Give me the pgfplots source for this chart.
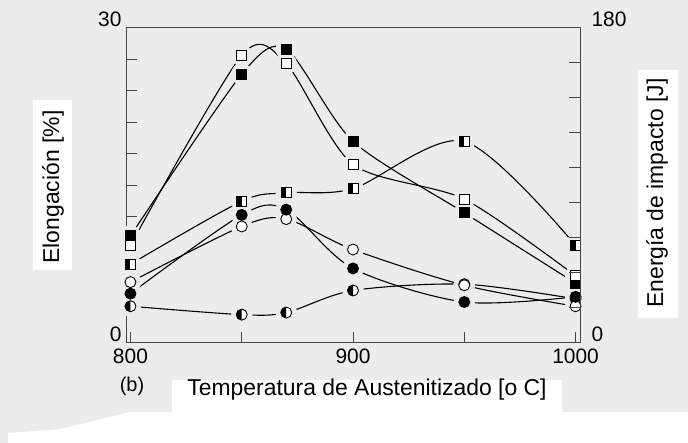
\documentclass[border=0pt]{standalone}
\usepackage{fontspec}
\setmainfont{Liberation Sans}
\usepackage{pgfplots}
\usepackage{pgfplotstable}
\pgfplotsset{compat=1.18}

\definecolor{bg}{RGB}{236,236,236}
\definecolor{axisgray}{RGB}{70,70,70}

% half-filled markers: left half black, right half white
\pgfdeclareplotmark{halfsquare}{%
  \pgfpathrectangle{\pgfpoint{-\pgfplotmarksize}{-\pgfplotmarksize}}{\pgfpoint{2\pgfplotmarksize}{2\pgfplotmarksize}}%
  \pgfsetfillcolor{white}\pgfusepathqfill
  \pgfpathrectangle{\pgfpoint{-\pgfplotmarksize}{-\pgfplotmarksize}}{\pgfpoint{\pgfplotmarksize}{2\pgfplotmarksize}}%
  \pgfsetfillcolor{black}\pgfusepathqfill
  \pgfpathrectangle{\pgfpoint{-\pgfplotmarksize}{-\pgfplotmarksize}}{\pgfpoint{2\pgfplotmarksize}{2\pgfplotmarksize}}%
  \pgfusepathqstroke
}
\pgfdeclareplotmark{halfcircle}{%
  \pgfpathcircle{\pgfpointorigin}{\pgfplotmarksize}%
  \pgfsetfillcolor{white}\pgfusepathqfill
  \pgfpathmoveto{\pgfpoint{0pt}{\pgfplotmarksize}}%
  \pgfpatharc{90}{270}{\pgfplotmarksize}%
  \pgfpathclose
  \pgfsetfillcolor{black}\pgfusepathqfill
  \pgfpathcircle{\pgfpointorigin}{\pgfplotmarksize}%
  \pgfusepathqstroke
}

% all series on the elongation scale (0--30)
\pgfplotstableread{
T     fs    os    hs    fc    oc    hc
800   10.2  9.3   7.5   4.7   5.8   3.5
850   25.6  27.4  13.5  12.2  11.1  2.7
870   28.0  26.6  14.3  12.7  11.8  2.9
900   19.2  17.0  14.7  7.1   8.9   5.0
950   12.4  13.7  19.2  3.9   5.5   5.6
1000  5.7   6.4   9.3   4.4   3.5   4.2
}\data

\begin{document}
\begin{tikzpicture}[x=1bp,y=1bp]
% page background and label patches
\fill[bg] (0,0) rectangle (688,443);
\fill[white] (8,0) rectangle (688,31);
\fill[bg] (8,31) -- (130,31) -- (60,14) -- (8,10) -- cycle;
\fill[white] (172,31) rectangle (562,63);
\fill[white] (33,173) rectangle (72,343);
\fill[white] (638,125) rectangle (678,373);

\begin{axis}[
  at={(126bp,100bp)}, anchor=south west,
  scale only axis, width=454bp, height=315bp,
  xmin=798, xmax=1002, ymin=0, ymax=30,
  axis on top,
  xtick={800,900,1000}, minor xtick={850,950},
  ytick={0,30}, minor ytick={3,6,...,27},
  xtick pos=bottom, ytick pos=left,
  tick align=inside,
  major tick length=11bp, minor tick length=11bp,
  axis line style={line width=1bp, axisgray},
  every tick/.style={line width=1bp, axisgray},
  /pgf/number format/assume math mode=true,
  /pgf/number format/1000 sep={},
  tick label style={font=\fontsize{21}{24}\selectfont},
  xticklabel style={yshift=-2bp},
  yticklabel style={xshift=-1bp, yshift=9bp},
]
% fitted curves
\addplot[smooth, tension=0.45, line width=1.1bp] table[x=T,y=fs] {\data};
\addplot[smooth, tension=0.45, line width=1.1bp] table[x=T,y=os] {\data};
\addplot[smooth, tension=0.5, line width=1.1bp] table[x=T,y=hs] {\data};
\addplot[smooth, tension=0.5, line width=1.1bp] table[x=T,y=fc] {\data};
\addplot[smooth, tension=0.5, line width=1.1bp] table[x=T,y=oc] {\data};
\addplot[smooth, tension=0.5, line width=1.1bp] table[x=T,y=hc] {\data};
% gaps in the curves around each point
\pgfplotsinvokeforeach{fs,os,hs,fc,oc,hc}{
  \addplot[only marks, color=bg, mark=*, mark size=10.5bp, mark options={draw=bg, fill=bg}] table[x=T,y=#1] {\data};
}
% data points
\addplot[only marks, black, mark=square*, mark size=5bp, mark options={fill=black, draw=black, line width=0.9bp}] table[x=T,y=fs] {\data};
\addplot[only marks, black, mark=square*, mark size=5bp, mark options={fill=white, draw=black, line width=0.9bp}] table[x=T,y=os] {\data};
\addplot[only marks, black, mark=halfsquare, mark size=5bp, mark options={draw=black, line width=0.9bp}] table[x=T,y=hs] {\data};
\addplot[only marks, black, mark=halfcircle, mark size=5.5bp, mark options={draw=black, line width=0.9bp}] table[x=T,y=hc] {\data};
\addplot[only marks, black, mark=*, mark size=5.5bp, mark options={fill=white, draw=black, line width=0.9bp}] table[x=T,y=oc] {\data};
\addplot[only marks, black, mark=*, mark size=5.5bp, mark options={fill=black, draw=black, line width=0.9bp}] table[x=T,y=fc] {\data};
\end{axis}

% right-hand scale: impact energy
\begin{axis}[
  at={(126bp,100bp)}, anchor=south west,
  scale only axis, width=454bp, height=315bp,
  xmin=798, xmax=1002, ymin=0, ymax=180,
  hide x axis, axis y line*=right,
  ytick={0,180}, minor ytick={20,40,...,160},
  tick align=inside,
  major tick length=11bp, minor tick length=11bp,
  axis line style={line width=1bp, axisgray, -},
  every tick/.style={line width=1bp, axisgray},
  /pgf/number format/assume math mode=true,
  tick label style={font=\fontsize{21}{24}\selectfont},
  yticklabel style={xshift=8bp, yshift=9bp},
]
\end{axis}

\node[font=\fontsize{23}{27}\selectfont] at (367,53) {Temperatura de Austenitizado [o C]};
\node[font=\fontsize{20}{23}\selectfont] at (132,57) {(b)};
\node[rotate=90, font=\fontsize{23}{27}\selectfont] at (53,256) {Elongación [\%]};
\node[rotate=90, font=\fontsize{23}{27}\selectfont] at (657,250) {Energía de impacto [J]};
\end{tikzpicture}
\end{document}
